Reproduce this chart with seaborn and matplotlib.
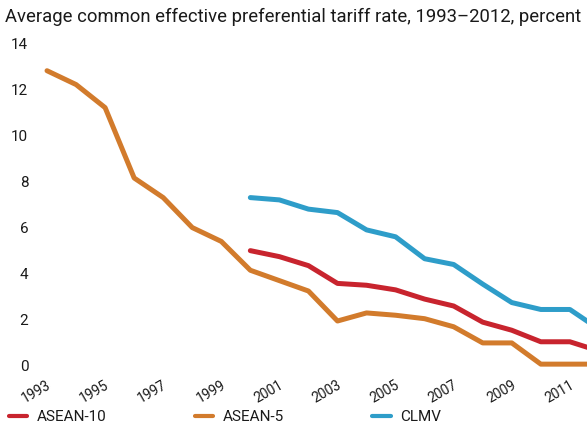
import numpy as np
import pandas as pd
import matplotlib.pyplot as plt
import matplotlib.transforms as mtrans
import seaborn as sns

# datos
anios = list(range(1993, 2013))
asean5 = [12.8, 12.2, 11.2, 8.15, 7.3, 6.0, 5.4, 4.15, 3.7, 3.25,
          1.95, 2.3, 2.2, 2.05, 1.7, 1.0, 1.0, 0.08, 0.08, 0.08]
asean10 = [np.nan] * 7 + [5.0, 4.74, 4.35, 3.58, 3.5, 3.3, 2.9,
                          2.6, 1.9, 1.55, 1.05, 1.05, 0.65]
clmv = [np.nan] * 7 + [7.3, 7.2, 6.8, 6.65, 5.9, 5.6, 4.65,
                       4.4, 3.55, 2.75, 2.45, 2.45, 1.6]
series = ['ASEAN-10', 'ASEAN-5', 'CLMV']
colores = ['#C8242E', '#D27B2C', '#2E9DC9']
ticks_x = list(range(1993, 2012, 2))
ticks_y = list(range(0, 15, 2))

df = pd.DataFrame({'anio': anios, 'ASEAN-10': asean10,
                   'ASEAN-5': asean5, 'CLMV': clmv})
largo = df.melt(id_vars='anio', var_name='serie', value_name='valor').dropna()

sns.set_style('white')
plt.rcParams['font.family'] = ['Roboto', 'DejaVu Sans']

fig = plt.figure(figsize=(5.87, 4.26), dpi=100)
ax = fig.add_axes([32.5 / 587, 0.1138, 1 - 32.5 / 587, 0.796])

sns.lineplot(data=largo, x='anio', y='valor', hue='serie', hue_order=series,
             palette=colores, linewidth=3.6, ax=ax, legend=False)

ax.set_xlim(1992.5, 2011.59)
ax.set_ylim(-0.5, 14.2)
ax.set_xticks(ticks_x)
ax.set_xticklabels([str(t) for t in ticks_x], rotation=30, ha='right', va='center',
                   rotation_mode='anchor', fontsize=10, color='#1a1a1a')
ax.set_yticks(ticks_y)
ax.set_yticklabels([str(t) for t in ticks_y], fontsize=11, color='#1a1a1a')
ax.tick_params(axis='x', length=0, pad=5)
ax.tick_params(axis='y', length=0, pad=3)
desplaza = mtrans.ScaledTranslation(3 / 100, 0, fig.dpi_scale_trans)
for lab in ax.get_xticklabels():
    lab.set_transform(lab.get_transform() + desplaza)
ax.set_xlabel('')
ax.set_ylabel('')
sns.despine(ax=ax, left=True, bottom=True)

fig.text(5 / 587, 1 - 17 / 426, 'Average common effective preferential tariff rate, 1993\u20132012, percent',
         fontsize=13.3, va='center', ha='left', color='#1a1a1a')

# leyenda manual abajo
manijas = [plt.Line2D([], [], color=c, linewidth=3) for c in colores]
fig.legend(manijas, series, loc='center left', bbox_to_anchor=(3 / 587, 9 / 426), ncol=3,
           frameon=False, fontsize=11, handlelength=1.2, handletextpad=0.6,
           borderaxespad=0, columnspacing=5.8, labelcolor='#1a1a1a')

fig.savefig('out.png', dpi=100)
